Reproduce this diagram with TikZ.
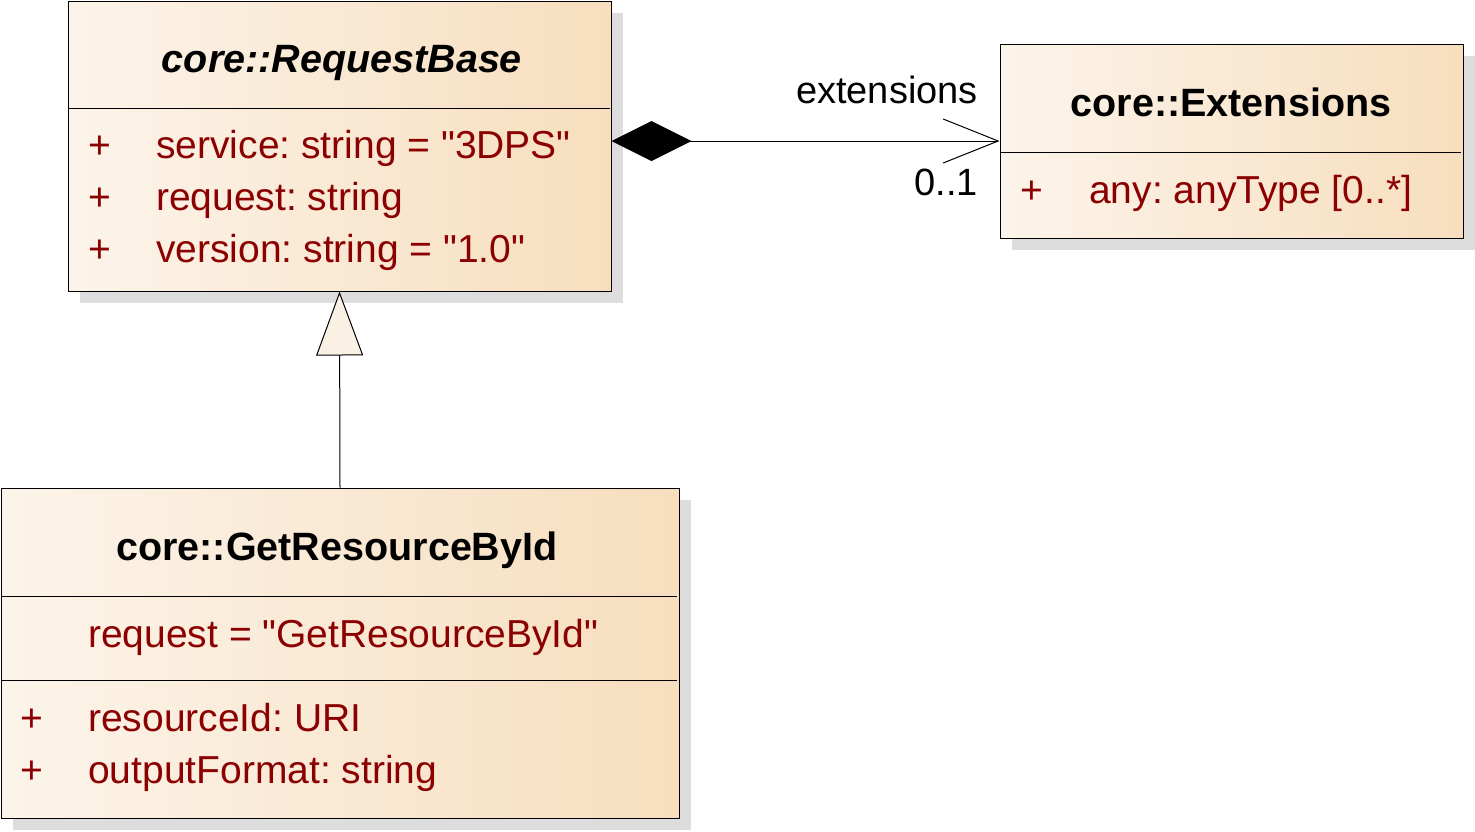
\documentclass[tikz,border=0pt]{standalone}
\usepackage{fontspec}
\setmainfont{Liberation Sans}[Ligatures=TeXOff]
\usetikzlibrary{arrows.meta,shadows}
\definecolor{attr}{RGB}{139,0,0}
\definecolor{gl}{RGB}{252,244,234}
\definecolor{gr}{RGB}{247,222,190}
\definecolor{shad}{RGB}{221,221,221}
\definecolor{trif}{RGB}{250,240,228}
\frenchspacing
\begin{document}
\begin{tikzpicture}[x=1pt,y=-1pt,
  classbox/.style={draw=black, line width=1pt, left color=gl, right color=gr, inner sep=0pt,
    general shadow={fill=shad, shadow xshift=12pt, shadow yshift=-12pt}},
  titletext/.style={inner sep=0pt, anchor=base, font=\fontsize{39.5}{46}\selectfont\bfseries},
  attrtext/.style={inner sep=0pt, anchor=base west, text=attr, font=\fontsize{39}{46}\selectfont},
  lbltext/.style={inner sep=0pt, anchor=base east, font=\fontsize{38}{46}\selectfont},
  divider/.style={line width=1pt}
]
\useasboundingbox (0,0) rectangle (1475,831);

% core::RequestBase
\node[classbox, minimum width=543pt, minimum height=290pt] (rb) at (339.5,146) {};
\draw[divider] (68,108) -- (610,108);
\node[titletext, font=\fontsize{39.5}{46}\selectfont\bfseries\itshape] (rbt) at (342,72) {core::RequestBase};
\node[attrtext] (rbp1) at (88,158) {+};
\node[attrtext] (rba1) at (156,158) {service: string = "3DPS"};
\node[attrtext] (rbp2) at (88,210) {+};
\node[attrtext] (rba2) at (156,210) {request: string};
\node[attrtext] (rbp3) at (88,262) {+};
\node[attrtext] (rba3) at (156,262) {version: string = "1.0"};

% core::Extensions
\node[classbox, minimum width=463pt, minimum height=194pt] (ext) at (1231.5,141) {};
\draw[divider] (1000,152) -- (1461,152);
\node[titletext] (extt) at (1231,116) {core::Extensions};
\node[attrtext] (extp1) at (1020,203) {+};
\node[attrtext] (exta1) at (1089,203) {any: anyType [0..*]};

% core::GetResourceById
\node[classbox, minimum width=678pt, minimum height=330pt] (grb) at (340,653) {};
\draw[divider] (1,596) -- (677,596);
\draw[divider] (1,680) -- (677,680);
\node[titletext] (grbt) at (337,560) {core::GetResourceById};
\node[attrtext] (grba0) at (88,647) {request = "GetResourceById"};
\node[attrtext] (grbp1) at (20,731) {+};
\node[attrtext] (grba1) at (88,731) {resourceId: URI};
\node[attrtext] (grbp2) at (20,783) {+};
\node[attrtext] (grba2) at (88,783) {outputFormat: string};

% composition
\draw[line width=1pt, {Diamond[length=80pt,width=40pt,fill=black]}-{Straight Barb[length=55pt,width=44pt]}]
  (ext.west -| rb.east) -- (ext.west);
\node[lbltext] (lext) at (978,103) {extensions};
\node[lbltext] (lmul) at (978,195) {0..1};

% generalization
\draw[line width=1pt, -{Triangle[length=64pt,width=47pt,fill=trif]}] (grb.north) -- (rb.south);
\end{tikzpicture}
\end{document}
